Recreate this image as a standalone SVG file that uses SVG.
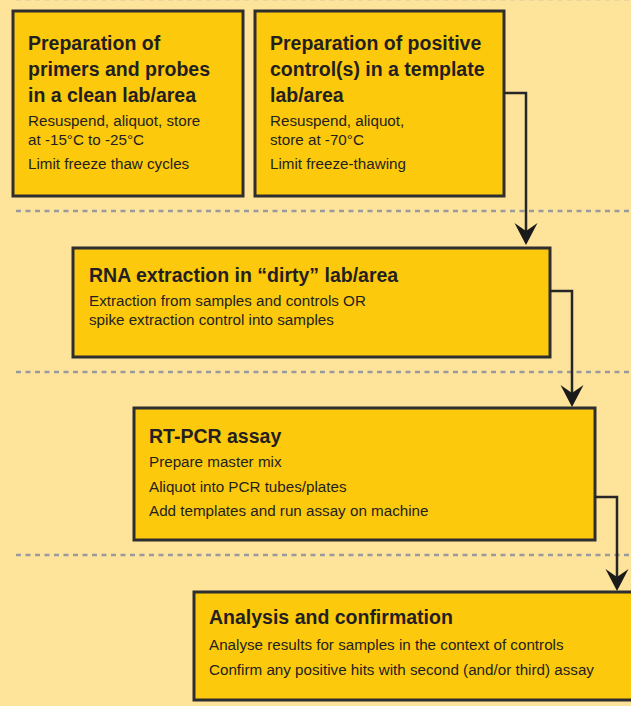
<svg xmlns="http://www.w3.org/2000/svg" width="631" height="706" viewBox="0 0 631 706">
  <style>
    .bg { fill: #fee39b; }
    .box { fill: #fdc90d; stroke: #2e2e2e; stroke-width: 3; }
    .sep { stroke: #999a9c; stroke-width: 2.5; stroke-dasharray: 5 4.5; fill: none; }
    .link { stroke: #262626; stroke-width: 2.5; fill: none; marker-end: url(#head); }
    .title { font-family: "Liberation Sans", Arial, sans-serif; font-weight: bold; font-size: 19.5px; fill: #231f20; }
    .body { font-family: "Liberation Sans", Arial, sans-serif; font-size: 15.2px; fill: #231f20; }
  </style>
  <defs>
    <marker id="head" markerUnits="userSpaceOnUse" viewBox="-23 -12 24 24" markerWidth="24" markerHeight="24" refX="-11" refY="0" orient="auto" overflow="visible">
      <path d="M0,0 L-22,-11.5 L-14,0 L-22,11.5 Z" fill="#1a1a1a"/>
    </marker>
  </defs>

  <rect class="bg" x="0" y="0" width="631" height="706"/>

  <!-- stage separators -->
  <g id="separators">
    <line class="sep" x1="16" y1="-0.5" x2="631" y2="-0.5" opacity="0.25"/>
    <line class="sep" x1="16" y1="211" x2="631" y2="211"/>
    <line class="sep" x1="16" y1="372" x2="631" y2="372"/>
    <line class="sep" x1="16" y1="555" x2="631" y2="555"/>
  </g>

  <g id="primers">
    <rect class="box" x="13" y="11" width="230" height="185"/>
    <text class="title" x="28" y="50">Preparation of</text>
    <text class="title" x="28" y="76">primers and probes</text>
    <text class="title" x="28" y="102">in a clean lab/area</text>
    <text class="body" x="28" y="126">Resuspend, aliquot, store</text>
    <text class="body" x="28" y="145">at -15°C to -25°C</text>
    <text class="body" x="28" y="169">Limit freeze thaw cycles</text>
  </g>

  <g id="controls">
    <rect class="box" x="255" y="11" width="249" height="185"/>
    <text class="title" x="270" y="50">Preparation of positive</text>
    <text class="title" x="270" y="76">control(s) in a template</text>
    <text class="title" x="270" y="102">lab/area</text>
    <text class="body" x="270" y="126">Resuspend, aliquot,</text>
    <text class="body" x="270" y="145">store at -70°C</text>
    <text class="body" x="270" y="169">Limit freeze-thawing</text>
  </g>

  <g id="extraction">
    <rect class="box" x="73" y="248" width="477" height="109"/>
    <text class="title" x="89" y="282">RNA extraction in “dirty” lab/area</text>
    <text class="body" x="89" y="306">Extraction from samples and controls OR</text>
    <text class="body" x="89" y="325">spike extraction control into samples</text>
  </g>

  <g id="rtpcr">
    <rect class="box" x="134" y="408" width="461" height="132"/>
    <text class="title" x="149" y="443">RT-PCR assay</text>
    <text class="body" x="149" y="467">Prepare master mix</text>
    <text class="body" x="149" y="492">Aliquot into PCR tubes/plates</text>
    <text class="body" x="149" y="516">Add templates and run assay on machine</text>
  </g>

  <g id="analysis">
    <rect class="box" x="194" y="592" width="450" height="108"/>
    <text class="title" x="209" y="624">Analysis and confirmation</text>
    <text class="body" x="209" y="650">Analyse results for samples in the context of controls</text>
    <text class="body" x="209" y="675">Confirm any positive hits with second (and/or third) assay</text>
  </g>

  <!-- flow between stages -->
  <g id="connectors">
    <path class="link" d="M504,93 H526 V234"/>
    <path class="link" d="M550,291 H572 V396"/>
    <path class="link" d="M595,497 H617 V580"/>
  </g>
</svg>
